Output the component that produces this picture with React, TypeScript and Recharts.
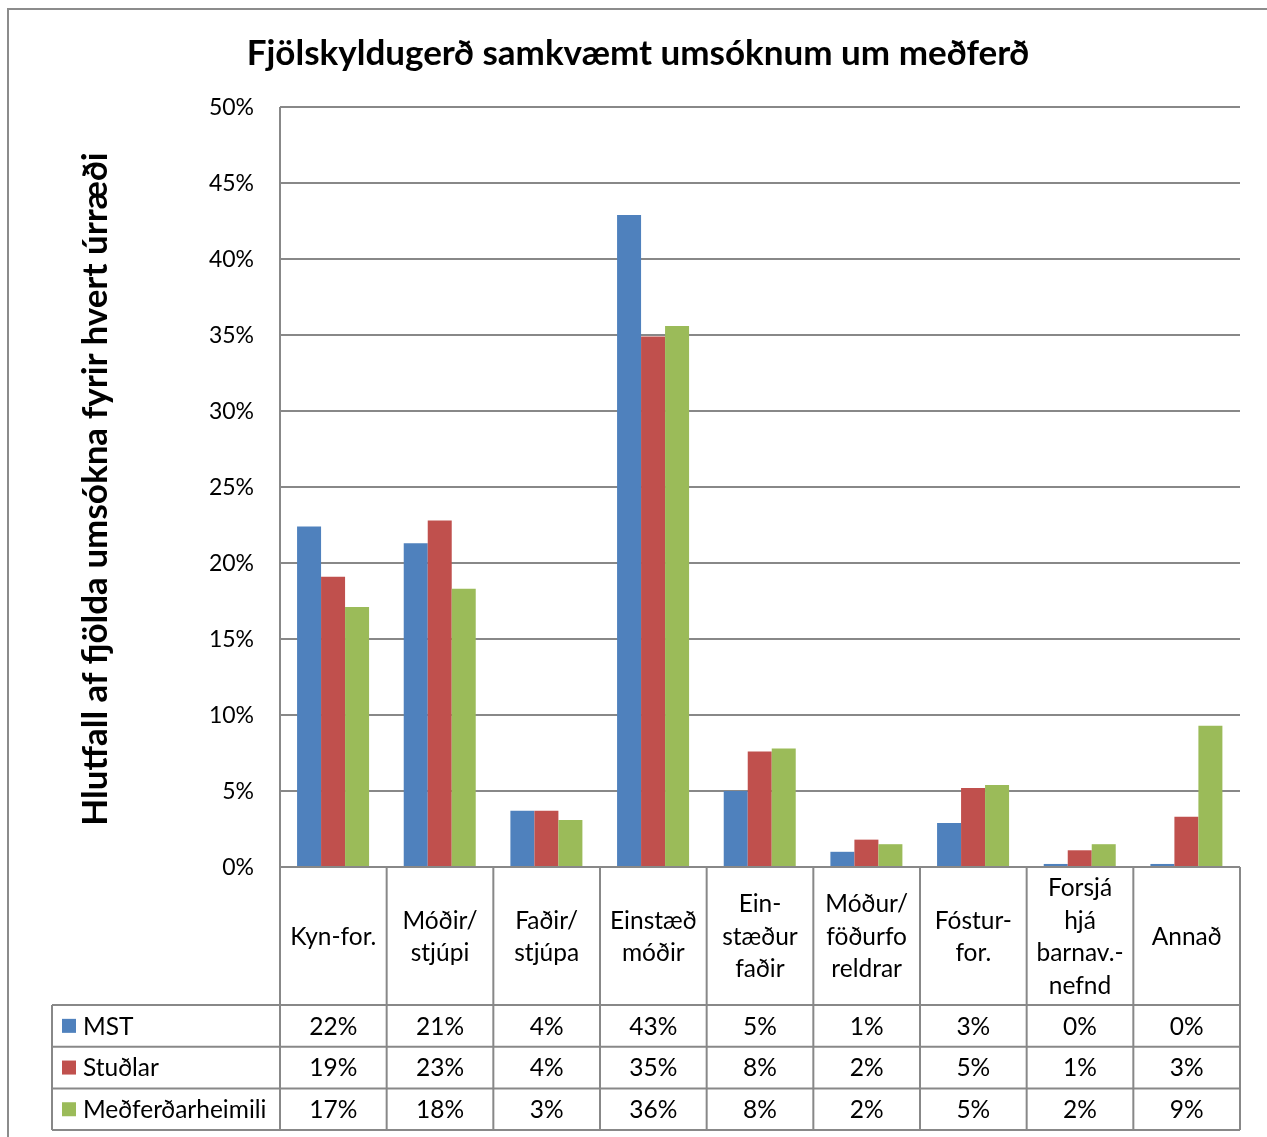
import React from 'react';
import { BarChart, Bar, XAxis, YAxis, CartesianGrid } from 'recharts';

const categoryLines: string[][] = [
  ['Kyn-for.'],
  ['Móðir/', 'stjúpi'],
  ['Faðir/', 'stjúpa'],
  ['Einstæð', 'móðir'],
  ['Ein-', 'stæður', 'faðir'],
  ['Móður/', 'föðurfo', 'reldrar'],
  ['Fóstur-', 'for.'],
  ['Forsjá', 'hjá', 'barnav.-', 'nefnd'],
  ['Annað'],
];
const categories = categoryLines.map((l) => l.join(' '));

const seriesNames = ['MST', 'Stuðlar', 'Meðferðarheimili'];
const seriesKeys = ['mst', 'studlar', 'medferd'];
const seriesColors = ['#4F81BD', '#C0504D', '#9BBB59'];

const mst = [22.4, 21.3, 3.7, 42.9, 5.0, 1.0, 2.9, 0.2, 0.2];
const studlar = [19.1, 22.8, 3.7, 34.9, 7.6, 1.8, 5.2, 1.1, 3.3];
const medferd = [17.1, 18.3, 3.1, 35.6, 7.8, 1.5, 5.4, 1.5, 9.3];
const seriesValues = [mst, studlar, medferd];

const yTicks = [0, 5, 10, 15, 20, 25, 30, 35, 40, 45, 50];

const data = categories.map((name, i) => ({
  name,
  idx: i,
  mst: mst[i],
  studlar: studlar[i],
  medferd: medferd[i],
}));

const FONT = 'Lato, "Open Sans", sans-serif';
const GRID = '#888888';
const W = 1251;
const H = 1129;
const PLOT_LEFT = 272;
const PLOT_RIGHT = 1232;
const PLOT_TOP = 99;
const PLOT_BOTTOM = 859;
const BW = (PLOT_RIGHT - PLOT_LEFT) / categories.length;
const HEADER_BOTTOM = 997;
const ROW_H = 41.7;
const LEFT_COL = 44;
const TEXT_SIZE = 24.5;
const TICK_SIZE = 23;
const LINE_H = 32.5;

const TableTick = (props: any) => {
  const { x, payload } = props;
  const i: number = payload?.index ?? props.index ?? 0;
  const lines = categoryLines[i] || [];
  const left = x - BW / 2;
  const right = x + BW / 2;
  const headerMid = (PLOT_BOTTOM + HEADER_BOTTOM) / 2;
  const tableBottom = HEADER_BOTTOM + ROW_H * 3;
  const firstY = headerMid - ((lines.length - 1) * LINE_H) / 2;
  return (
    <g>
      <line x1={left} x2={left} y1={PLOT_BOTTOM} y2={tableBottom} stroke={GRID} strokeWidth={2} />
      {i === categories.length - 1 && (
        <line x1={right} x2={right} y1={PLOT_BOTTOM} y2={tableBottom} stroke={GRID} strokeWidth={2} />
      )}
      {lines.map((t, k) => (
        <text key={k} x={x} y={firstY + k * LINE_H} dy="0.36em" textAnchor="middle" fontSize={TEXT_SIZE} fontFamily={FONT} fill="#000">
          {t}
        </text>
      ))}
      {seriesValues.map((vals, s) => (
        <text key={'v' + s} x={x} y={HEADER_BOTTOM + ROW_H * s + ROW_H / 2} dy="0.36em" textAnchor="middle" fontSize={TEXT_SIZE} fontFamily={FONT} fill="#000">
          {Math.round(vals[i]) + '%'}
        </text>
      ))}
      {i === 0 && (
        <g>
          {[0, 1, 2, 3].map((r) => (
            <line key={'h' + r} x1={LEFT_COL} x2={PLOT_RIGHT} y1={HEADER_BOTTOM + ROW_H * r} y2={HEADER_BOTTOM + ROW_H * r} stroke={GRID} strokeWidth={2} />
          ))}
          <line x1={LEFT_COL} x2={LEFT_COL} y1={HEADER_BOTTOM} y2={tableBottom} stroke={GRID} strokeWidth={2} />
          {seriesNames.map((n, s) => {
            const cy = HEADER_BOTTOM + ROW_H * s + ROW_H / 2;
            return (
              <g key={'l' + s}>
                <rect x={LEFT_COL + 10} y={cy - 7} width={14} height={14} fill={seriesColors[s]} />
                <text x={LEFT_COL + 31} y={cy} dy="0.36em" fontSize={TEXT_SIZE} fontFamily={FONT} fill="#000">
                  {n}
                </text>
              </g>
            );
          })}
        </g>
      )}
    </g>
  );
};

export default function App() {
  return (
    <div style={{ position: 'relative', width: W, height: H }}>
      <div
        style={{
          position: 'fixed',
          left: 7,
          top: 8,
          width: 2000,
          height: 2000,
          border: '2px solid #8c8c8c',
          pointerEvents: 'none',
        }}
      />
      <div
        style={{
          position: 'absolute',
          left: 0,
          top: 22,
          width: 1260,
          textAlign: 'center',
          fontFamily: FONT,
          fontWeight: 700,
          fontSize: 35,
          color: '#000',
          whiteSpace: 'nowrap',
        }}
      >
        Fjölskyldugerð samkvæmt umsóknum um meðferð
      </div>
      <div
        style={{
          position: 'absolute',
          left: 85 - 400,
          top: 481 - 22,
          width: 800,
          height: 44,
          lineHeight: '44px',
          textAlign: 'center',
          transform: 'rotate(-90deg)',
          fontFamily: FONT,
          fontWeight: 700,
          fontSize: 35,
          color: '#000',
          whiteSpace: 'nowrap',
        }}
      >
        Hlutfall af fjölda umsókna fyrir hvert úrræði
      </div>
      <BarChart
        width={W}
        height={H}
        data={data}
        margin={{ top: PLOT_TOP, right: W - PLOT_RIGHT, bottom: 0, left: 0 }}
        barCategoryGap="16%"
        barGap={0}
      >
        <CartesianGrid vertical={false} stroke={GRID} strokeWidth={2} />
        <XAxis
          dataKey="name"
          height={H - PLOT_BOTTOM}
          interval={0}
          tickLine={false}
          tickSize={0}
          axisLine={{ stroke: GRID, strokeWidth: 2 }}
          tick={<TableTick />}
        />
        <YAxis
          width={PLOT_LEFT}
          domain={[0, 50]}
          ticks={yTicks}
          interval={0}
          tickLine={false}
          tickSize={0}
          tickMargin={26}
          axisLine={{ stroke: GRID, strokeWidth: 2 }}
          tickFormatter={(v: number) => v + '%'}
          tick={{ fontSize: TICK_SIZE, fontFamily: FONT, fill: '#000' }}
        />
        {seriesKeys.map((k, s) => (
          <Bar key={k} dataKey={k} name={seriesNames[s]} fill={seriesColors[s]} isAnimationActive={false} />
        ))}
      </BarChart>
    </div>
  );
}
